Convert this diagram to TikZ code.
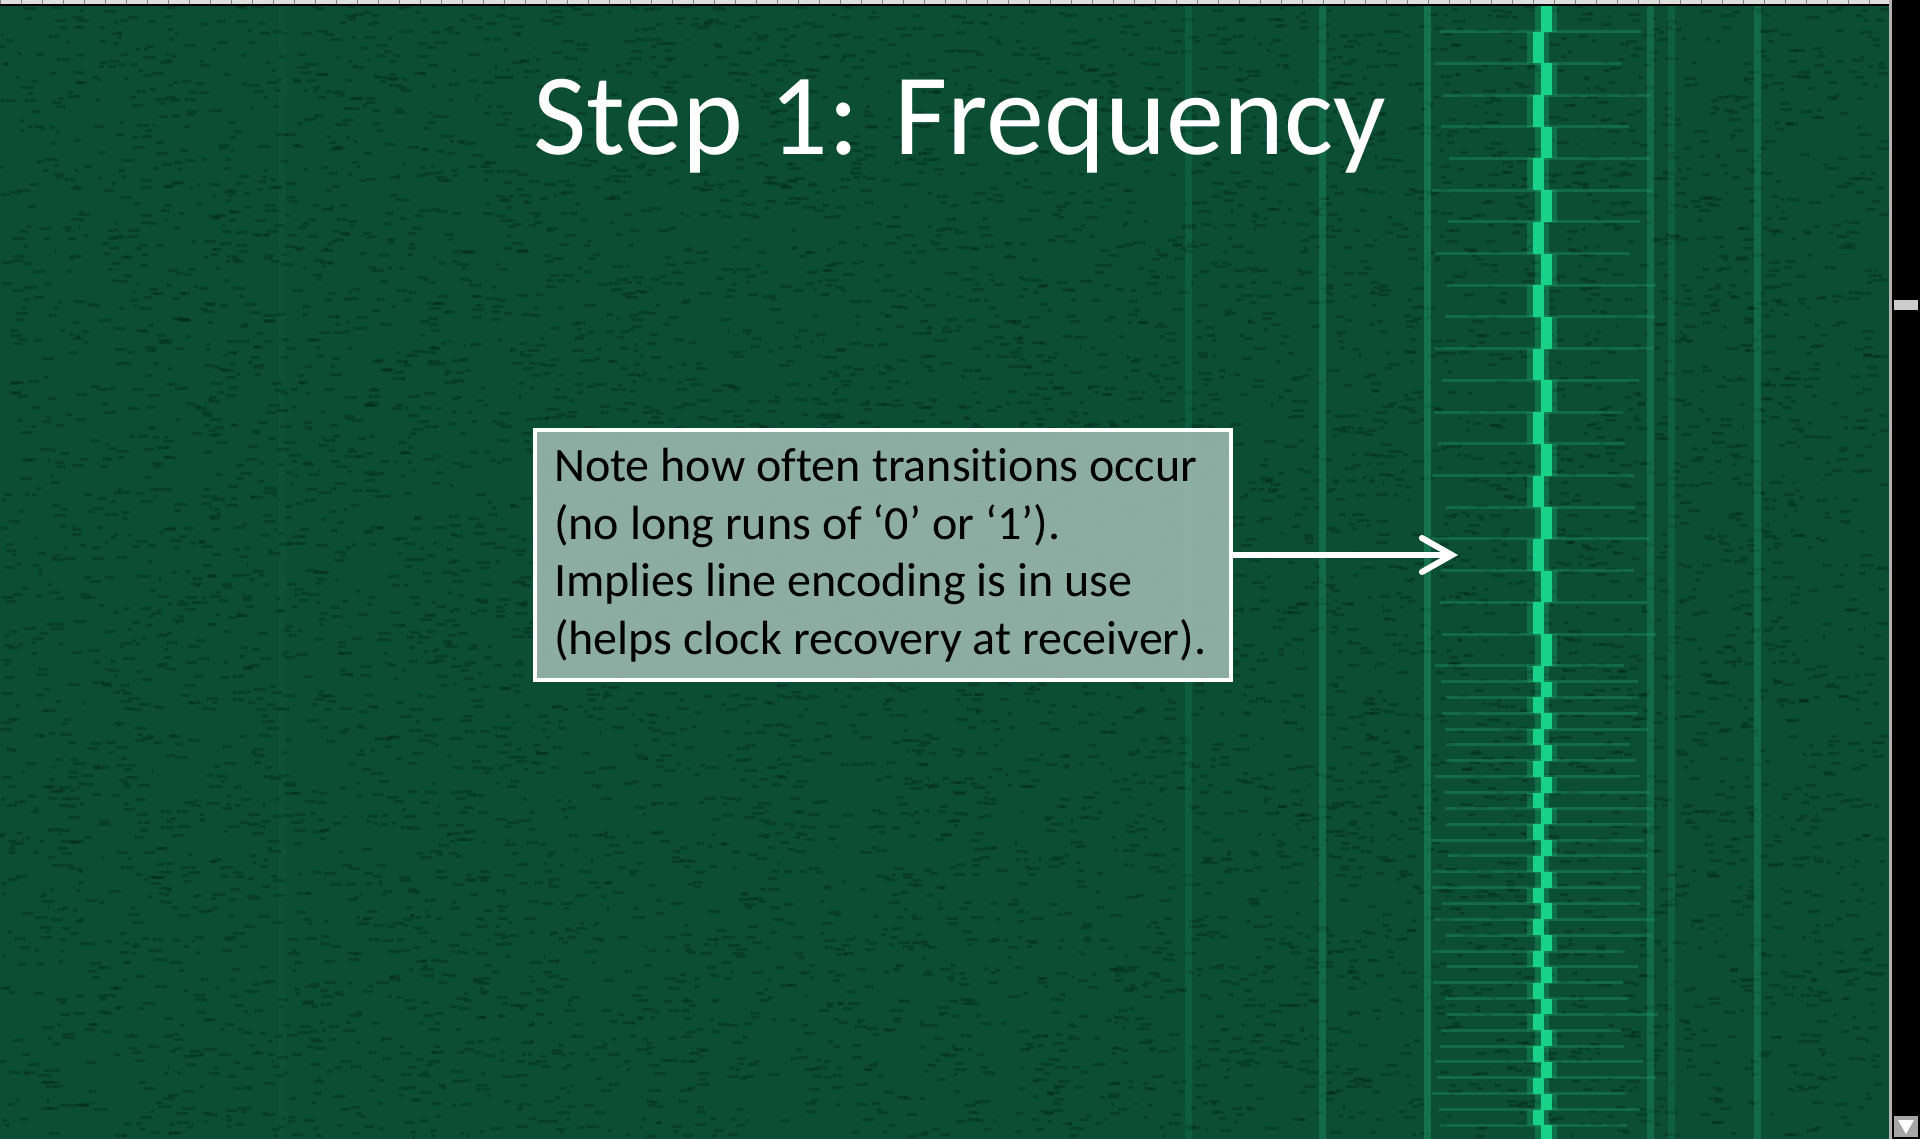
\documentclass[tikz,border=0pt]{standalone}
\usepackage{fontspec}
\setmainfont{Carlito}
\newfontfamily\notefont[RawFeature=-liga]{Carlito}
\usetikzlibrary{arrows.meta}
\usetikzlibrary{positioning}
\definecolor{specbg}{RGB}{12,78,53}
\definecolor{specdark}{RGB}{2,30,18}
\definecolor{tonefaint}{RGB}{30,150,100}
\definecolor{tonebright}{RGB}{25,210,135}
\definecolor{notefill}{RGB}{152,182,172}
\tikzstyle{note}=[rectangle,draw=white,fill=notefill,fill opacity=0.92,text opacity=1,line width=4pt,text=black,align=left,inner xsep=19pt,text width=658pt,minimum height=250pt]
\tikzstyle{tone}=[tonefaint,line width=7pt]
\tikzstyle{streak}=[tonefaint,line width=3pt,opacity=0.4]
\tikzstyle{arrow}=[-{Straight Barb[length=30pt,width=34pt,line cap=round]},white,line width=6pt]

\begin{document}
\begin{tikzpicture}[x=1pt,y=-1pt]
    \useasboundingbox (0,0) rectangle (1920,1139);
    % spectrogram
    \fill[specbg] (0,0) rectangle (1889,1139);
    \pgfmathsetseed{7}
    \foreach \i in {1,...,9000}
        \fill[specdark,opacity=0.3] ({rnd*1880},{rnd*1135}) rectangle ++({3+rnd*10},3);
    \foreach \x/\o in {282/0.06,1188/0.22,1322/0.4,1427/0.5,1650/0.4,1671/0.25,1757/0.4}
        \draw[tone,opacity=\o] (\x,6) -- (\x,1139);
    \foreach \k in {1,...,21} {
        \draw[streak] ({1430+rnd*20},{\k*31.7}) -- ({1620+rnd*40},{\k*31.7});
        \pgfmathsetmacro\dx{mod(\k,2)==0 ? 0 : 8}
        \draw[tonebright,line width=22pt,opacity=0.25] ({1538+\dx},{\k*31.7-31.7}) -- ({1538+\dx},{\k*31.7});
        \draw[tonebright,line width=11pt] ({1538+\dx},{\k*31.7-31.7}) -- ({1538+\dx},{\k*31.7});
    }
    \foreach \k in {1,...,30} {
        \draw[streak] ({1430+rnd*20},{665.7+\k*15.85}) -- ({1620+rnd*40},{665.7+\k*15.85});
        \pgfmathsetmacro\dx{mod(\k,2)==0 ? 8 : 0}
        \draw[tonebright,line width=22pt,opacity=0.25] ({1538+\dx},{665.7+\k*15.85-15.85}) -- ({1538+\dx},{665.7+\k*15.85});
        \draw[tonebright,line width=11pt] ({1538+\dx},{665.7+\k*15.85-15.85}) -- ({1538+\dx},{665.7+\k*15.85});
    }
    % ruler and scroll bar
    \fill[gray!25] (0,0) rectangle (1889,5);
    \foreach \x in {0,21,...,1889}
        \draw[gray,line width=1pt] (\x,0) -- (\x,5);
    \draw[black,line width=1.5pt] (0,5) -- (1889,5);
    \fill[black] (1889,0) rectangle (1920,1139);
    \fill[gray!60] (1889,0) rectangle (1892,1139);
    \fill[gray!40] (1894,300) rectangle (1918,310);
    \fill[gray!70] (1894,1116) rectangle (1918,1137);
    \fill[white] (1898,1120) -- (1914,1120) -- (1906,1134) -- cycle;
    % title and note
    \node[text=white,anchor=base,font=\fontsize{116}{140}\selectfont] at (960,155) (title) {Step 1: Frequency};
    \node[note,font=\notefont\fontsize{48}{57.5}\selectfont] at (883,555) (transitions) {\spaceskip=11pt\hyphenpenalty=10000 Note how often transitions occur\\(no long runs of ‘0’ or ‘1’).\\Implies line encoding is in use\\(helps clock recovery at receiver).};
    \coordinate (tonetip) at (1458,555);
    \draw[arrow] (transitions) -- (tonetip);
\end{tikzpicture}
\end{document}
